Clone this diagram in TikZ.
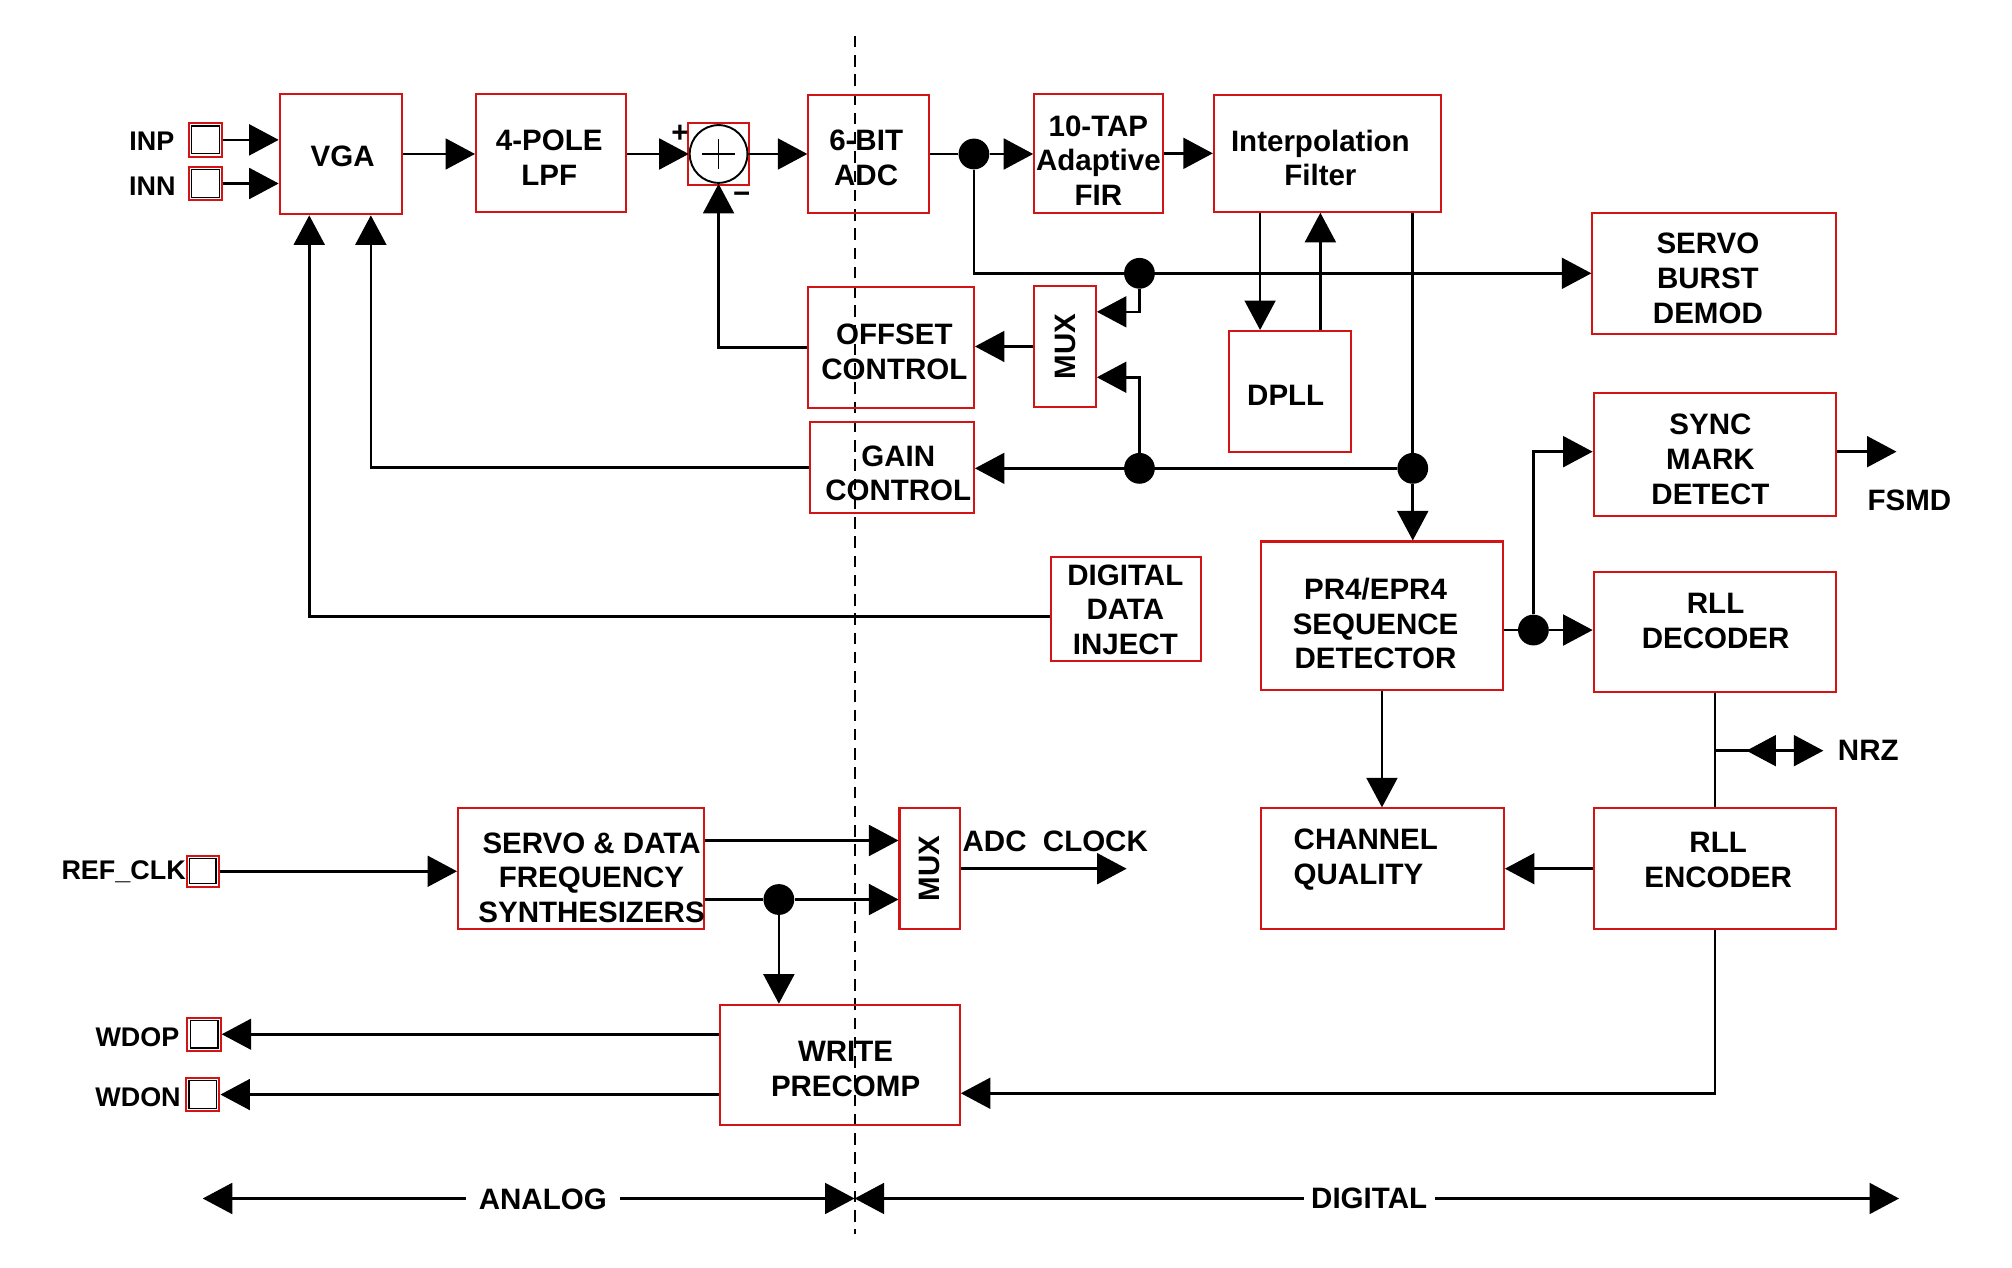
\documentclass[tikz,border=0pt]{standalone}
\usepackage{fontspec}
\setmainfont{Liberation Sans}
\usetikzlibrary{arrows.meta,calc}
\definecolor{boxred}{RGB}{210,20,20}
\begin{document}
\begin{tikzpicture}[x=1pt,y=-1pt,
  box/.style={draw=boxred, line width=1.6pt, inner sep=0pt},
  txt/.style={font=\bfseries\fontsize{23}{27}\selectfont, align=center, inner sep=0pt},
  sml/.style={font=\bfseries\fontsize{21}{25}\selectfont, inner sep=0pt},
  ln/.style={line width=2pt},
  arr/.style={line width=2pt, -{Triangle[length=23pt,width=24pt]}},
  dblarr/.style={line width=2pt, {Triangle[length=23pt,width=24pt]}-{Triangle[length=23pt,width=24pt]}},
  dot/.style={circle, fill=black, inner sep=0pt, minimum size=24pt},
  pin/.style={draw=boxred, line width=1.6pt, minimum width=26pt, minimum height=26pt, inner sep=0pt}
]
\useasboundingbox (0,0) rectangle (1568,988);

% analog / digital divider
\draw[line width=1.6pt, dash pattern=on 9pt off 6pt] (666,28) -- (666,962);

% boxes
\node[box, minimum width=95pt, minimum height=94pt] (vga) at (265.5,120) {};
\node[box, minimum width=117pt, minimum height=92pt] (lpf) at (429.5,119) {};
\node[circle, draw=black, line width=1.5pt, minimum size=45pt, inner sep=0pt] (sum) at (560,120) {};
\node[box, minimum width=47pt, minimum height=48pt] (sumbox) at (560,120) {};
\node[box, minimum width=94pt, minimum height=92pt] (adc) at (677,120) {};
\node[box, minimum width=100pt, minimum height=93pt] (fir) at (856,119.5) {};
\node[box, minimum width=177pt, minimum height=91pt] (interp) at (1034.5,119.5) {};
\node[box, minimum width=190pt, minimum height=94pt] (servo) at (1336,213) {};
\node[box, minimum width=48pt, minimum height=94pt] (mux1) at (830,270) {};
\node[box, minimum width=129pt, minimum height=94pt] (offset) at (694.5,271) {};
\node[box, minimum width=128pt, minimum height=71pt] (gain) at (695,364.5) {};
\node[box, minimum width=95pt, minimum height=94pt] (dpll) at (1005.5,305) {};
\node[box, minimum width=188pt, minimum height=116pt] (pr4) at (1077,480) {};
\node[box, minimum width=189pt, minimum height=96pt] (sync) at (1336.5,354) {};
\node[box, minimum width=189pt, minimum height=93pt] (rlld) at (1336.5,492.5) {};
\node[box, minimum width=189pt, minimum height=94pt] (rlle) at (1336.5,677) {};
\node[box, minimum width=189pt, minimum height=94pt] (chq) at (1077.5,677) {};
\node[box, minimum width=187pt, minimum height=94pt] (wpc) at (654.5,830) {};
\node[box, minimum width=117pt, minimum height=81pt] (ddi) at (877.5,474.5) {};
\node[box, minimum width=192pt, minimum height=94pt] (synth) at (453,677) {};
\node[box, minimum width=47pt, minimum height=94pt] (mux2) at (724.5,677) {};

% pins
\node[pin] (inp) at (160,109) {};
\node[pin] (inn) at (160,143) {};
\node[pin, minimum width=25pt, minimum height=24pt] (ref) at (158,679) {};
\node[pin] (wdop) at (159,806) {};
\node[pin] (wdon) at (158,853) {};
\foreach \p in {inp,inn,ref,wdop,wdon}{
  \draw[black, line width=1pt] ([shift={(3pt,-3pt)}]\p.north west) rectangle ([shift={(-3pt,3pt)}]\p.south east);
}

% texts
\node[txt] (vgat) at (267,122) {VGA};
\node[txt] (lpft) at (428,123) {4-POLE\\LPF};
\node[txt] (adct) at (675,123) {6-BIT\\ADC};
\node[txt] (firt) at (856,125) {10-TAP\\Adaptive\\FIR};
\node[txt] (interpt) at (1029,123) {Interpolation\\Filter};
\node[txt] (servot) at (1331,217) {SERVO\\BURST\\DEMOD};
\node[txt] (offsett) at (697,274) {OFFSET\\CONTROL};
\node[txt] (gaint) at (700,369) {GAIN\\CONTROL};
\node[txt, rotate=90] (mux1t) at (mux1) {MUX};
\node[txt] (dpllt) at (1002,308) {DPLL};
\node[txt] (ddit) at (877,475) {DIGITAL\\DATA\\INJECT};
\node[txt] (pr4t) at (1072,486) {PR4/EPR4\\SEQUENCE\\DETECTOR};
\node[txt] (synct) at (1333,358) {SYNC\\MARK\\DETECT};
\node[txt] (rlldt) at (1337,484) {RLL\\DECODER};
\node[txt] (rllet) at (1339,670) {RLL\\ENCODER};
\node[txt, align=left, anchor=west] (chqt) at (1008,670) {CHANNEL\\QUALITY};
\node[txt] (syntht) at (461,684) {SERVO \& DATA\\FREQUENCY\\SYNTHESIZERS};
\node[txt, rotate=90] (mux2t) at (mux2) {MUX};
\node[txt] (wpct) at (659,833) {WRITE\\PRECOMP};
\node[txt, anchor=west] (adcclkt) at (750,656) {ADC\ \ CLOCK};
\node[txt] (fsmdt) at (1488,390) {FSMD};
\node[txt] (nrzt) at (1456,585) {NRZ};
\node[txt] (plus) at (530,104) {+};
\node[txt] (minus) at (578,154) {−};
\node[sml, anchor=east] (inpt) at (136,110) {INP};
\node[sml, anchor=east] (innt) at (137,145) {INN};
\node[sml, anchor=east] (reft) at (145,679) {REF\_CLK};
\node[sml, anchor=east] (wdopt) at (140,808) {WDOP};
\node[sml, anchor=east] (wdont) at (141,855) {WDON};

% summer cross
\draw[line width=1.2pt] ([xshift=-13pt]sum.center) -- ([xshift=13pt]sum.center)
  ([yshift=12pt]sum.center) -- ([yshift=-12pt]sum.center);

% dots
\node[dot] (d1) at (759,120) {};
\node[dot] (d2) at (888,213) {};
\node[dot] (d3) at (888,365) {};
\node[dot] (d4) at (1101,365) {};
\node[dot] (d5) at (1195,491) {};
\node[dot] (d6) at (607,701) {};

% forward path
\draw[arr] (inp.east) -- (inp.east -| vga.west);
\draw[arr] (inn.east) -- (inn.east -| vga.west);
\draw[arr] (vga.east) -- (vga.east -| lpf.west);
\draw[arr] (lpf.east |- sum.west) -- (sum.west);
\draw[arr] (sum.east) -- (sum.east -| adc.west);
\draw[ln] (adc.east |- d1) -- (d1);
\draw[arr] (d1) -- (d1 -| fir.west);
\draw[arr] (fir.east) -- (fir.east -| interp.west);

% servo burst path
\draw[arr] (d1) |- (servo.west);
\draw[arr] (d2) |- ([yshift=27pt]mux1.east);
\draw[arr] (d3) |- ([yshift=-24pt]mux1.east);
\draw[arr] (mux1.west) -- (mux1.west -| offset.east);
\draw[arr] (offset.west) -| (sum.south);

% gain loop
\draw[ln] (interp.south -| d4) -- (d4);
\draw[arr] (d4) -- (d4 |- pr4.north);
\draw[arr] (d4) -- (d4 -| gain.east);
\draw[arr] (gain.west) -| ([xshift=23.5pt]vga.south);
\draw[arr] ([yshift=-6pt]ddi.west) -| ([xshift=-24.5pt]vga.south);

% DPLL
\draw[arr] ([xshift=-52.5pt]interp.south) coordinate (ip1) -- (ip1 |- dpll.north);
\draw[arr] ([xshift=23.5pt]dpll.north) coordinate (dp1) -- (dp1 |- interp.south);

% detector outputs
\draw[ln] (pr4.east |- d5) -- (d5);
\draw[arr] (d5) -- (d5 -| rlld.west);
\draw[arr] (d5) |- ([yshift=2pt]sync.west);
\coordinate (fsmdo) at (1478,352);
\draw[arr] ([yshift=2pt]sync.east) -- (fsmdo);
\draw[ln] (rlld.south) -- (rlle.north);
\coordinate (nrzj) at (1336.5,585);
\coordinate (nrzo) at (1421,585);
\coordinate (nrzm) at (1392,585);
\coordinate (nrzl) at (1361,585);
\draw[arr] (nrzj) -- (nrzo);
\draw[arr] (nrzm) -- (nrzl);
\draw[arr] (rlle.west) -- (rlle.west -| chq.east);
\draw[arr] (pr4.south) -- (pr4.south |- chq.north);
\draw[arr] (rlle.south) |- ([yshift=-22pt]wpc.east);

% write path
\draw[arr] ([yshift=24pt]wpc.west) coordinate (w1) -- (w1 -| wdop.east);
\draw[arr] ([yshift=-23pt]wpc.west) coordinate (w2) -- (w2 -| wdon.east);

% synthesizer
\draw[arr] (ref.east) -- (ref.east -| synth.west);
\draw[arr] ([yshift=22pt]synth.east) coordinate (s1) -- (s1 -| mux2.west);
\draw[ln] (synth.east |- d6) -- (d6);
\draw[arr] (d6) -- (d6 -| mux2.west);
\draw[arr] (d6) -- (d6 |- wpc.north);
\coordinate (adcclk) at (878,677);
\draw[arr] (mux2.east) -- (adcclk);

% analog / digital ranges
\coordinate (al) at (158,934);
\coordinate (am) at (666,934);
\coordinate (ar) at (1480,934);
\draw[dblarr] (al) -- (am);
\draw[dblarr] (am) -- (ar);
\node[txt, fill=white, inner xsep=10pt, inner ysep=4pt] (analogt) at (423,935) {ANALOG};
\node[txt, fill=white, inner xsep=6pt, inner ysep=4pt] (digitalt) at (1067,934) {DIGITAL};
\end{tikzpicture}
\end{document}
